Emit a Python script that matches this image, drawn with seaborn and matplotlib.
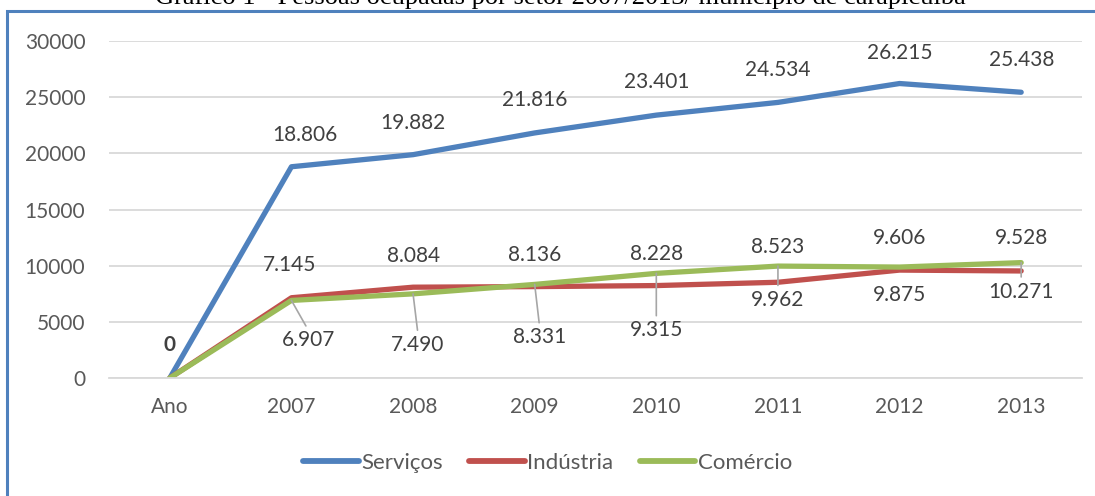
import matplotlib
matplotlib.use("Agg")
import matplotlib.pyplot as plt
from matplotlib.patches import Rectangle
from matplotlib.lines import Line2D
import seaborn as sns
import pandas as pd

# data
anos = ["Ano", "2007", "2008", "2009", "2010", "2011", "2012", "2013"]
servicos = [0, 18806, 19882, 21816, 23401, 24534, 26215, 25438]
industria = [0, 7145, 8084, 8136, 8228, 8523, 9606, 9528]
comercio = [0, 6907, 7490, 8331, 9315, 9962, 9875, 10271]
series_names = ["Serviços", "Indústria", "Comércio"]
cores = ["#4F81BD", "#C0504D", "#9BBB59"]

titulo = "Gráfico 1 - Pessoas ocupadas por setor 2007/2013/ município de carapicuíba"

df = pd.DataFrame({
    "ano": anos * 3,
    "valor": servicos + industria + comercio,
    "setor": [s for s in series_names for _ in anos],
})

def fmt(v):
    return f"{v:,}".replace(",", ".")

sns.set_style("white")
plt.rcParams["font.family"] = ["Lato", "DejaVu Sans"]

W, H = 1095, 496
fig = plt.figure(figsize=(W / 100, H / 100), dpi=100)
ax = fig.add_axes([109 / W, (H - 378) / H, (1082 - 109) / W, 337 / H])

sns.lineplot(data=df, x="ano", y="valor", hue="setor", palette=cores,
             hue_order=series_names, linewidth=3.8, ax=ax, legend=False,
             solid_capstyle="round", solid_joinstyle="round", sort=False)

ax.set_xlim(-0.5, len(anos) - 0.5)
ax.set_ylim(0, 30000)
ax.set_yticks(range(0, 30001, 5000))
ax.grid(axis="y", color="#d9d9d9", linewidth=1.3)
ax.set_axisbelow(True)
for s in ["top", "right", "left"]:
    ax.spines[s].set_visible(False)
ax.spines["bottom"].set_color("#d9d9d9")
ax.spines["bottom"].set_linewidth(1.3)
ax.tick_params(axis="both", length=0, labelsize=15, colors="#595959")
ax.tick_params(axis="x", pad=14)
ax.tick_params(axis="y", pad=17)
ax.set_xlabel("")
ax.set_ylabel("")

lbl = dict(fontsize=15, color="#404040", ha="center", va="center",
           textcoords="offset pixels", annotation_clip=False)

# zero label at first category
ax.annotate("0", (0, 0), xytext=(0, 33), fontweight="bold", **lbl)

# label offsets in pixels (dx, dy)
off_serv = [None, (13, 32), (0, 32), (0, 33), (0, 33), (0, 32), (0, 31), (0, 32)]
off_ind = [None, (-2, 33), (0, 31), (0, 32), (0, 32), (0, 35), (0, 32), (0, 33)]
off_com = [None, (17, -40), (5, -51), (5, -53), (0, -57), (0, -34), (0, -28), (0, -29)]
leader = [False, True, True, True, True, True, False, True]

for i in range(1, len(anos)):
    ax.annotate(fmt(servicos[i]), (i, servicos[i]), xytext=off_serv[i], **lbl)
    ax.annotate(fmt(industria[i]), (i, industria[i]), xytext=off_ind[i], **lbl)
    arrow = dict(arrowstyle="-", color="#a6a6a6", lw=1.2, relpos=(0.5, 1.0),
                 shrinkA=1, shrinkB=0) if leader[i] else None
    ax.annotate(fmt(comercio[i]), (i, comercio[i]), xytext=off_com[i],
                arrowprops=arrow, **lbl)

# legend
handles = [Line2D([], [], color=c, linewidth=4.2, solid_capstyle="round") for c in cores]
leg = fig.legend(handles, series_names, loc="center", ncol=3,
                 bbox_to_anchor=(0.5, (H - 463) / H), frameon=False,
                 fontsize=16, handlelength=2.5, handletextpad=0.1,
                 columnspacing=1.2)
for t in leg.get_texts():
    t.set_color("#595959")

# chart frame (cut off on right and bottom)
fig.patches.append(Rectangle((7 / W, -0.05), 1.2, (H - 11) / H + 0.05,
                             transform=fig.transFigure, fill=False,
                             edgecolor="#4F81BD", linewidth=2.2))

# title, cut off at the top as in the source
fig.text(560 / W, 1.0 + 2 / H, titulo, ha="center", va="center",
         fontsize=19, family="Liberation Serif", color="black")

fig.savefig("out.png", dpi=100)
